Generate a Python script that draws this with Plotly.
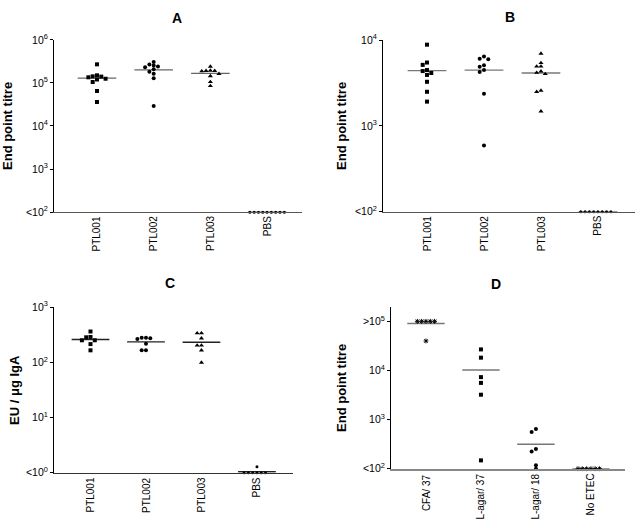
import numpy as np
import plotly.graph_objects as go

W, H = 640, 528
FONT = "Liberation Sans"

# ---------------- data ----------------
a_groups = ["PTL001", "PTL002", "PTL003", "PBS"]
a_ptl001 = [2.7e5, 1.5e5, 1.42e5, 1.4e5, 1.35e5, 1.25e5, 1.2e5, 1.05e5, 6.5e4, 3.6e4]
a_ptl002 = [3.05e5, 2.66e5, 2.52e5, 2.4e5, 2.31e5, 2.08e5, 1.81e5, 1.63e5, 1.28e5, 2.9e4]
a_ptl003 = [2.4e5, 1.94e5, 1.91e5, 1.91e5, 1.87e5, 1.63e5, 1.44e5, 1.05e5, 8.5e4]
a_pbs = [100, 100, 100, 100, 100, 100, 100, 100, 100]

b_groups = ["PTL001", "PTL002", "PTL003", "PBS"]
b_ptl001 = [8850, 5480, 5150, 4480, 4360, 4140, 3930, 3270, 2500, 1920]
b_ptl002 = [6460, 6080, 6000, 5100, 4900, 4480, 4250, 2370, 590]
b_ptl003 = [6980, 5420, 4930, 4930, 4330, 4180, 4040, 2580, 2500, 1480]
b_pbs = [100, 100, 100, 100, 100, 100, 100, 100]

c_groups = ["PTL001", "PTL002", "PTL003", "PBS"]
c_ptl001 = [362, 288, 284, 251, 251, 214, 165]
c_ptl002 = [280, 280, 272, 265, 216, 165, 165]
c_ptl003 = [338, 338, 272, 202, 202, 165, 99]
c_pbs = [1.28, 1, 1, 1, 1, 1, 1]

d_groups = ["CFA/ 37", "L-agar/ 37", "L-agar/ 18", "No ETEC"]
d_cfa37 = [1e5, 1e5, 1e5, 1e5, 1e5, 3.98e4]
d_lagar37 = [26800, 18200, 7310, 5580, 3210, 148]
d_lagar18 = [641, 560, 253, 225, 118, 100]
d_noetec = [100, 100, 100, 100, 100, 100]

a_ticks = [100, 1e3, 1e4, 1e5, 1e6]
a_ticktext = ["&lt;10<sup>2</sup>", "10<sup>3</sup>", "10<sup>4</sup>", "10<sup>5</sup>", "10<sup>6</sup>"]
b_ticks = [100, 1e3, 1e4]
b_ticktext = ["&lt;10<sup>2</sup>", "10<sup>3</sup>", "10<sup>4</sup>"]
c_ticks = [1, 10, 100, 1000]
c_ticktext = ["&lt;10<sup>0</sup>", "10<sup>1</sup>", "10<sup>2</sup>", "10<sup>3</sup>"]
d_ticks = [100, 1e3, 1e4, 1e5]
d_ticktext = ["&lt;10<sup>2</sup>", "10<sup>3</sup>", "10<sup>4</sup>", "&gt;10<sup>5</sup>"]

# ---------------- layout of panels (pixels) ----------------
panels = [
    dict(name="A", groups=a_groups, series=[a_ptl001, a_ptl002, a_ptl003, a_pbs],
         ticks=a_ticks, ticktext=a_ticktext, yr=[2, 6], xr=[-0.758, 3.616],
         px=[54, 302], py=[32.7, 209.7], ylabel="End point titre", ylx=8, title_xy=(177, 10),
         symbols=["square", "circle", "triangle-up", "circle"], sizes=[4, 4, 4.5, 3],
         linecolor="#666666", xline=("#555555", 1), labgap=3),
    dict(name="B", groups=b_groups, series=[b_ptl001, b_ptl002, b_ptl003, b_pbs],
         ticks=b_ticks, ticktext=b_ticktext, yr=[2, 4], xr=[-0.772, 3.65],
         px=[383, 635], py=[33.0, 209.3], ylabel="End point titre", ylx=342, title_xy=(510, 9),
         symbols=["square", "circle", "triangle-up", "circle"], sizes=[4, 4, 4.5, 3],
         linecolor="#777777", xline=("#555555", 1), labgap=3),
    dict(name="C", groups=c_groups, series=[c_ptl001, c_ptl002, c_ptl003, c_pbs],
         ticks=c_ticks, ticktext=c_ticktext, yr=[0, 3], xr=[-0.658, 3.65],
         px=[54, 293], py=[307.3, 477.3], ylabel="EU / \u03bcg IgA", ylx=15, title_xy=(170, 283),
         symbols=["square", "circle", "triangle-up", "circle"], sizes=[4, 4, 4.5, 3],
         linecolor="#222222", xline=("#333333", 1), labgap=4),
    dict(name="D", groups=d_groups, series=[d_cfa37, d_lagar37, d_lagar18, d_noetec],
         ticks=d_ticks, ticktext=d_ticktext, yr=[2, 5.288], xr=[-0.636, 3.62],
         px=[391, 625], py=[307.3, 473.3], ylabel="End point titre", ylx=342, title_xy=(496, 284),
         symbols=["asterisk-open", "square", "circle", "asterisk-open"], sizes=[4, 4, 4, 4],
         linecolor="#777777", xline=("#888888", 2), labgap=4),
]


def swarm(vals, ppd, step_units, thr=3.6):
    v = np.log10(np.asarray(vals, dtype=float)) * ppd
    order = np.argsort(-v, kind="stable")
    cand = [0]
    for j in range(1, 30):
        cand += [-j, j]
    placed = []
    slots = np.zeros(len(v))
    for i in order:
        for s in cand:
            if all(not (ps == s and abs(py - v[i]) < thr) for ps, py in placed):
                break
        placed.append((s, v[i]))
        slots[i] = s
    return slots * step_units


fig = go.Figure()
layout = dict(width=W, height=H, margin=dict(l=0, r=0, t=0, b=0),
              plot_bgcolor="white", paper_bgcolor="white", showlegend=False,
              font=dict(family=FONT, color="black"), hovermode=False)
annotations = []

for k, p in enumerate(panels):
    idx = "" if k == 0 else str(k + 1)
    xa, ya = "x" + idx, "y" + idx
    xdom = [p["px"][0] / W, p["px"][1] / W]
    ydom = [1 - p["py"][1] / H, 1 - p["py"][0] / H]
    ppd = (p["py"][1] - p["py"][0]) / (p["yr"][1] - p["yr"][0])
    ppu = (p["px"][1] - p["px"][0]) / (p["xr"][1] - p["xr"][0])
    step = 4.3 / ppu
    half = 0.34
    for g, vals in enumerate(p["series"]):
        offs = swarm(vals, ppd, step)
        sym = p["symbols"][g]
        marker = dict(symbol=sym, size=p["sizes"][g], color="black",
                      line=dict(width=1 if "open" in sym else 0, color="black"))
        m = float(np.mean(vals))
        fig.add_trace(go.Scatter(x=[g - half, g + half], y=[m, m], mode="lines",
                                 line=dict(color=p["linecolor"], width=1.4),
                                 xaxis=xa, yaxis=ya, cliponaxis=False, hoverinfo="skip"))
        fig.add_trace(go.Scatter(x=g + offs, y=vals, mode="markers", marker=marker,
                                 xaxis=xa, yaxis=ya, cliponaxis=False, hoverinfo="skip"))
        annotations.append(dict(text=p["groups"][g], x=g, xref=xa,
                                y=1 - (p["py"][1] + p["labgap"]) / H, yref="paper",
                                textangle=-90, showarrow=False, xanchor="center", yanchor="top",
                                borderpad=0, font=dict(family=FONT, size=10, color="black")))
    layout["xaxis" + idx] = dict(domain=xdom, range=p["xr"], anchor=ya,
                                 showticklabels=False, ticks="", fixedrange=True,
                                 showline=True, linecolor=p["xline"][0], linewidth=p["xline"][1],
                                 showgrid=False, zeroline=False)
    layout["yaxis" + idx] = dict(domain=ydom, type="log", range=p["yr"], anchor=xa,
                                 tickmode="array", tickvals=p["ticks"], ticktext=p["ticktext"],
                                 ticks="outside", ticklen=3, tickcolor="black", showline=True,
                                 linecolor="black", linewidth=1, showgrid=False, zeroline=False,
                                 fixedrange=True,
                                 tickfont=dict(family=FONT, size=10.5, color="black"))
    annotations.append(dict(text="<b>" + p["name"] + "</b>", x=p["title_xy"][0] / W,
                            y=1 - p["title_xy"][1] / H, xref="paper", yref="paper",
                            showarrow=False, font=dict(family=FONT, size=14, color="black"),
                            xanchor="center", yanchor="middle"))
    annotations.append(dict(text="<b>" + p["ylabel"] + "</b>", x=p["ylx"] / W,
                            y=1 - (p["py"][0] + p["py"][1]) / 2 / H, xref="paper", yref="paper",
                            showarrow=False, textangle=-90,
                            font=dict(family=FONT, size=13, color="black"),
                            xanchor="center", yanchor="middle"))

layout["annotations"] = annotations
fig.update_layout(**layout)
fig.write_html("out.html", config={"displayModeBar": False, "staticPlot": True},
               post_script="document.body.style.margin = '0px';")
